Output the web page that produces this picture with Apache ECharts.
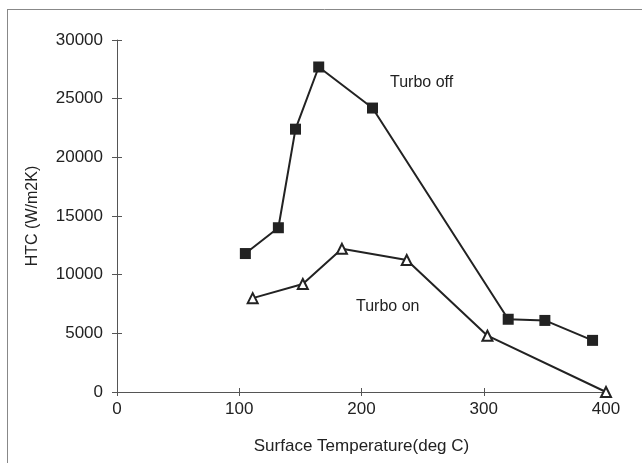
<!DOCTYPE html>
<html>
<head>
<meta charset="utf-8">
<script src="https://cdn.jsdelivr.net/npm/echarts@6/dist/echarts.min.js"></script>
<style>
  html, body { margin: 0; padding: 0; background: #fff; }
  #chart { width: 642px; height: 463px; }
</style>
</head>
<body>
<div id="chart"></div>
<script>
// Heat transfer coefficient vs. surface temperature
const turboOffTemp = [105, 132, 146, 165, 209, 320, 350, 389];
const turboOffHTC  = [11800, 14000, 22400, 27700, 24200, 6200, 6100, 4400];
const turboOnTemp  = [111, 152, 184, 237, 303, 400];
const turboOnHTC   = [8000, 9200, 12200, 11250, 4800, 0];
const xTicks = { min: 0, max: 400, step: 100 };
const yTicks = { min: 0, max: 30000, step: 5000 };
const seriesNames = ['Turbo off', 'Turbo on'];

const ink = '#222';
const font = 'Liberation Sans, Arial, sans-serif';

const pairs = (xs, ys) => xs.map((x, i) => [x, ys[i]]);

const chart = echarts.init(document.getElementById('chart'));

const baseX = {
  type: 'value', min: xTicks.min, max: xTicks.max, interval: xTicks.step,
  splitLine: { show: false }
};
const baseY = {
  type: 'value', min: yTicks.min, max: yTicks.max, interval: yTicks.step,
  splitLine: { show: false }
};

chart.setOption({
  animation: false,
  backgroundColor: '#fff',
  grid: { left: 117, right: 36, top: 40, bottom: 71 },
  xAxis: [
    Object.assign({}, baseX, {
      name: 'Surface Temperature(deg C)',
      nameLocation: 'middle',
      nameGap: 46,
      nameTextStyle: { color: ink, fontSize: 17, fontFamily: font },
      axisLine: { lineStyle: { color: '#555', width: 1 } },
      axisTick: { inside: false, length: 4, lineStyle: { color: '#555' } },
      axisLabel: { color: ink, fontSize: 17, fontFamily: font, margin: 9 }
    }),
    // inner half of the crossing tick marks
    Object.assign({}, baseX, {
      position: 'bottom',
      axisLine: { show: false },
      axisTick: { inside: true, length: 4, lineStyle: { color: '#555' } },
      axisLabel: { show: false }
    })
  ],
  yAxis: [
    Object.assign({}, baseY, {
      name: 'HTC (W/m2K)',
      nameLocation: 'middle',
      nameGap: 76,
      nameTextStyle: { color: ink, fontSize: 16, fontFamily: font },
      axisLine: { lineStyle: { color: '#555', width: 1 } },
      axisTick: { inside: false, length: 5, lineStyle: { color: '#555' } },
      axisLabel: {
        color: ink, fontSize: 17, fontFamily: font, margin: 14,
        formatter: v => String(v)
      }
    }),
    Object.assign({}, baseY, {
      position: 'left',
      axisLine: { show: false },
      axisTick: { inside: true, length: 5, lineStyle: { color: '#555' } },
      axisLabel: { show: false }
    })
  ],
  series: [
    {
      name: seriesNames[0],
      type: 'line',
      data: pairs(turboOffTemp, turboOffHTC),
      symbol: 'rect',
      symbolSize: 11,
      lineStyle: { color: ink, width: 2 },
      itemStyle: { color: ink, borderColor: ink, borderWidth: 0 }
    },
    {
      name: seriesNames[1],
      type: 'line',
      data: pairs(turboOnTemp, turboOnHTC),
      symbol: 'triangle',
      symbolSize: 10,
      lineStyle: { color: ink, width: 2 },
      itemStyle: { color: '#fff', borderColor: ink, borderWidth: 2 }
    }
  ],
  graphic: [
    // page frame (top and left edges)
    { type: 'line', shape: { x1: 7, y1: 9.5, x2: 642, y2: 9.5 }, style: { stroke: '#888', lineWidth: 1 } },
    { type: 'line', shape: { x1: 7.5, y1: 9, x2: 7.5, y2: 463 }, style: { stroke: '#888', lineWidth: 1 } },
    { type: 'text', left: 390, top: 75, style: { text: seriesNames[0], fill: ink, font: '16px ' + font } },
    { type: 'text', left: 356, top: 299, style: { text: seriesNames[1], fill: ink, font: '16px ' + font } }
  ]
});
</script>
</body>
</html>
